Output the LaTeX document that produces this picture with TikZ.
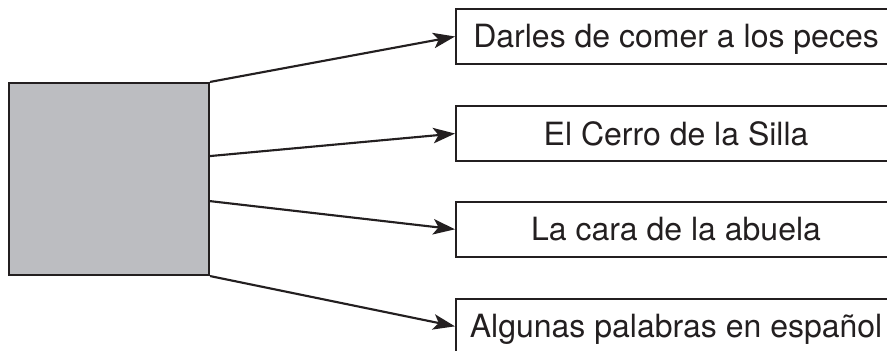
\documentclass[tikz,border=0pt]{standalone}
\usepackage{fontspec}
\setmainfont{TeX Gyre Heros}
\usetikzlibrary{positioning,arrows.meta}

\definecolor{ink}{HTML}{231F20}
\definecolor{boxgrey}{HTML}{BCBDC1}

\tikzset{
  item/.style={draw=ink, line width=0.8pt, minimum width=165pt, minimum height=20.6pt,
    text height=8.6pt, text depth=0pt, font=\fontsize{12}{14}\selectfont, text=ink},
  link/.style={draw=ink, line width=0.8pt, -{Stealth[length=8.2pt,width=5.8pt,inset=2pt]}}
}

\begin{document}
\begin{tikzpicture}[x=0.375pt, y=-0.375pt]
\useasboundingbox (0,0) rectangle (887,351);
\clip (0,0) rectangle (887,351);
	\node [draw=ink, line width=0.8pt, fill=boxgrey, minimum width=75pt, minimum height=72pt] (grey) at (109,179) {};
	\node [item, anchor=west] (peces) at (455,36.5) {Darles de comer a los peces};
	\node [item, below=15pt of peces] (silla) {El Cerro de la Silla};
	\node [item, below=14.5pt of silla] (abuela) {La cara de la abuela};
	\node [item, below=15pt of abuela] (espanol) {Algunas palabras en español};

	\draw [link] (grey.north east) -- (peces.west);
	\draw [link] ([yshift=8.6pt]grey.east) -- (silla.west);
	\draw [link] ([yshift=-8.3pt]grey.east) -- (abuela.west);
	\draw [link] (grey.south east) -- (espanol.west);

\end{tikzpicture}
\end{document}
